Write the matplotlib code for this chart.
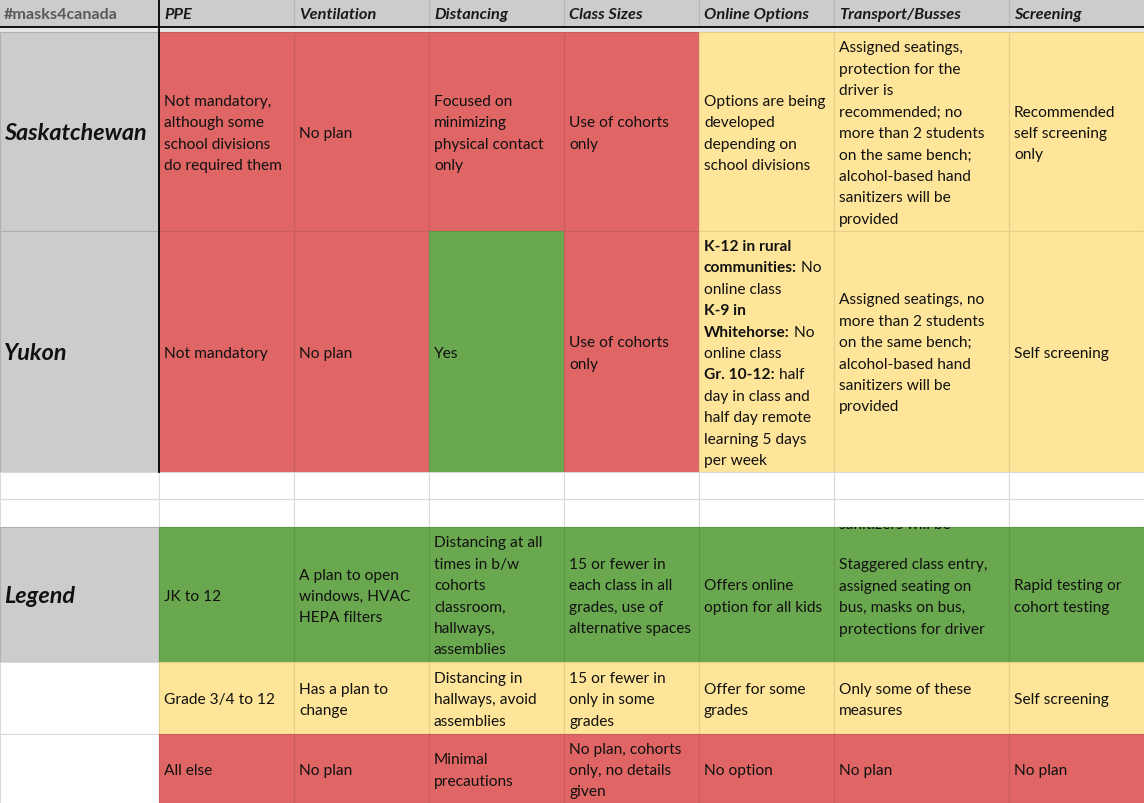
import matplotlib
matplotlib.use("Agg")
import matplotlib.pyplot as plt
from matplotlib.patches import Rectangle

# ---------------- data ----------------
corner_label = "#masks4canada"
headers = ["PPE", "Ventilation", "Distancing", "Class Sizes",
           "Online Options", "Transport/Busses", "Screening"]
row_labels = ["Saskatchewan", "Yukon", "", "", "Legend", "", ""]

# colour codes: R = red, Y = yellow, G = green, W = white
sask_colors = ["R", "R", "R", "R", "Y", "Y", "Y"]
sask_text = [
    "Not mandatory,\nalthough some\nschool divisions\ndo required them",
    "No plan",
    "Focused on\nminimizing\nphysical contact\nonly",
    "Use of cohorts\nonly",
    "Options are being\ndeveloped\ndepending on\nschool divisions",
    "Assigned seatings,\nprotection for the\ndriver is\nrecommended; no\nmore than 2 students\non the same bench;\nalcohol-based hand\nsanitizers will be\nprovided",
    "Recommended\nself screening\nonly",
]
yukon_colors = ["R", "R", "G", "R", "Y", "Y", "Y"]
yukon_text = [
    "Not mandatory",
    "No plan",
    "Yes",
    "Use of cohorts\nonly",
    "**K-12 in rural**\n**communities:** No\nonline class\n**K-9 in**\n**Whitehorse:** No\nonline class\n**Gr. 10-12:** half\nday in class and\nhalf day remote\nlearning 5 days\nper week",
    "Assigned seatings, no\nmore than 2 students\non the same bench;\nalcohol-based hand\nsanitizers will be\nprovided",
    "Self screening",
]
blank_colors = ["W"] * 7
blank_text = [""] * 7
legend_green_colors = ["G"] * 7
legend_green_text = [
    "JK to 12",
    "A plan to open\nwindows, HVAC\nHEPA filters",
    "Distancing at all\ntimes in b/w\ncohorts\nclassroom,\nhallways,\nassemblies",
    "15 or fewer in\neach class in all\ngrades, use of\nalternative spaces",
    "Offers online\noption for all kids",
    "alcohol-based hand\nsanitizers will be\n\nStaggered class entry,\nassigned seating on\nbus, masks on bus,\nprotections for driver",
    "Rapid testing or\ncohort testing",
]
legend_yellow_colors = ["Y"] * 7
legend_yellow_text = [
    "Grade 3/4 to 12",
    "Has a plan to\nchange",
    "Distancing in\nhallways, avoid\nassemblies",
    "15 or fewer in\nonly in some\ngrades",
    "Offer for some\ngrades",
    "Only some of these\nmeasures",
    "Self screening",
]
legend_red_colors = ["R"] * 7
legend_red_text = [
    "All else",
    "No plan",
    "Minimal\nprecautions",
    "No plan, cohorts\nonly, no details\ngiven",
    "No option",
    "No plan",
    "No plan",
]

table_colors = [sask_colors, yukon_colors, blank_colors, blank_colors,
                legend_green_colors, legend_yellow_colors, legend_red_colors]
table_text = [sask_text, yukon_text, blank_text, blank_text,
              legend_green_text, legend_yellow_text, legend_red_text]
label_col_gray = [True, True, False, False, True, False, False]

# ---------------- layout / style ----------------
W, H = 1144, 804
col_edges = [0, 159, 294, 429, 564, 699, 834, 1009, 1144]
header_h = 28
band_h = 5
row_edges = [33, 232, 473, 500, 528, 663, 735, 804]
# lines hidden above the cell top (text clipped by the cell), per (row, col)
top_clip_lines = {(4, 5): 3}

fills = {"R": "#E06666", "Y": "#FFE599", "G": "#6AA84F", "W": "#FFFFFF"}
edge_cols = {"R": "#C95C5C", "Y": "#E8CF88", "G": "#5F9747", "W": "#DADADA"}
gray = "#CCCCCC"
line_h = 21.4
font = "Lato"
fs = 11.2

fig = plt.figure(figsize=(W / 100, H / 100), dpi=100)
ax = fig.add_axes([0, 0, 1, 1])
ax.set_xlim(0, W)
ax.set_ylim(H, 0)
ax.axis("off")
fig.canvas.draw()
renderer = fig.canvas.get_renderer()

# header
ax.add_patch(Rectangle((0, 0), W, header_h, facecolor=gray, edgecolor="none"))
ax.add_patch(Rectangle((0, header_h), W, band_h, facecolor="#E4E6EA", edgecolor="none"))
for x in col_edges[1:-1]:
    ax.plot([x, x], [0, header_h], color="#B8B8B8", lw=0.8)
ax.plot([0, W], [header_h - 0.5, header_h - 0.5], color="black", lw=1.3)
ax.text(4, 15, corner_label, fontsize=11.6, fontweight="bold", color="#595959",
        family=font, va="center", ha="left")
for j, h in enumerate(headers):
    ax.text(col_edges[j + 1] + 5, 15, h, fontsize=11.8, fontweight="bold",
            fontstyle="italic", color="#1A1A1A", family=font, va="center", ha="left")


def draw_rich_line(x, y, line, clip):
    parts = line.split("**")
    cx = x
    for k, part in enumerate(parts):
        if part == "":
            continue
        bold = (k % 2 == 1)
        t = ax.text(cx, y, part, fontsize=fs, family=font,
                    fontweight="bold" if bold else "normal",
                    color="#111111", va="center", ha="left", clip_on=True)
        t.set_clip_path(clip)
        bb = t.get_window_extent(renderer=renderer)
        cx += bb.width  # axes pixel units == figure pixels


for i in range(len(row_edges) - 1):
    y0, y1 = row_edges[i], row_edges[i + 1]
    # label column
    ax.add_patch(Rectangle((0, y0), col_edges[1], y1 - y0,
                           facecolor=gray if label_col_gray[i] else "white",
                           edgecolor="#B0B0B0" if label_col_gray[i] else "#DADADA", lw=0.8))
    if row_labels[i]:
        ax.text(4, (y0 + y1) / 2 + 1, row_labels[i], fontsize=16.8, fontweight="bold",
                fontstyle="italic", family=font, color="#111111", va="center", ha="left")
    for j in range(len(headers)):
        x0, x1 = col_edges[j + 1], col_edges[j + 2]
        c = table_colors[i][j]
        rect = Rectangle((x0, y0), x1 - x0, y1 - y0, facecolor=fills[c],
                         edgecolor=edge_cols[c], lw=0.8)
        ax.add_patch(rect)
        txt = table_text[i][j]
        if not txt:
            continue
        lines = txt.split("\n")
        n = len(lines)
        hidden = top_clip_lines.get((i, j), 0)
        if hidden:
            # visible block centred; earlier lines spill above the top edge and are clipped
            vis = n - hidden
            first_vis = (y0 + y1) / 2 + 2 - (vis - 1) / 2 * line_h
            ys = [first_vis + (k - hidden) * line_h for k in range(hidden, n)]
            last_hidden = y0 - 3
            ys = [last_hidden - (hidden - 2 - k) * line_h for k in range(hidden - 1)] + [0] + ys
        else:
            yc = (y0 + y1) / 2 + 1.5
            ys = [yc + (k - (n - 1) / 2) * line_h for k in range(n)]
        for ln, yy in zip(lines, ys):
            if ln:
                draw_rich_line(x0 + 5, yy, ln, rect)

# black vertical separator
ax.plot([col_edges[1], col_edges[1]], [0, row_edges[2]], color="black", lw=1.3)

fig.savefig("out.png", dpi=100)
